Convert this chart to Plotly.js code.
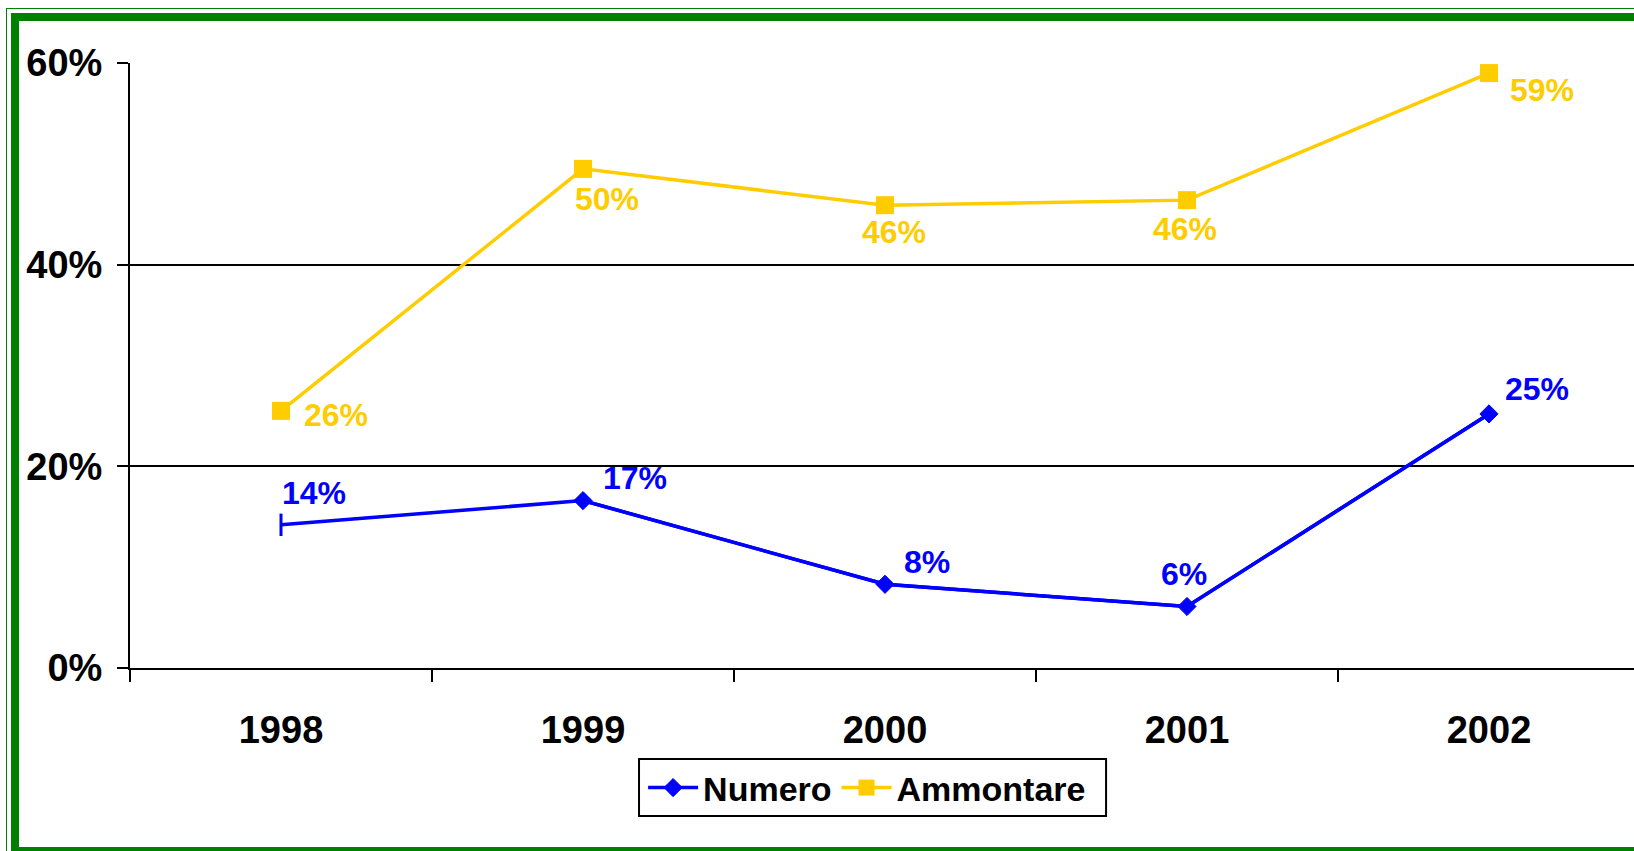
<!DOCTYPE html>
<html>
<head>
<meta charset="utf-8">
<script src="https://cdn.plot.ly/plotly-3.0.1.min.js"></script>
<style>
html,body{margin:0;padding:0;width:1634px;height:851px;overflow:hidden;background:#fff;}
#chart{position:absolute;left:0;top:0;}
.b1{position:absolute;left:6px;top:8px;width:1700px;height:900px;border:1.5px solid #008000;box-sizing:border-box;pointer-events:none;}
.b2{position:absolute;left:11px;top:13px;width:1700px;height:842px;border:8px solid #008000;box-sizing:border-box;pointer-events:none;}
</style>
</head>
<body>
<div id="chart"></div>
<div class="b1"></div>
<div class="b2"></div>
<script>
const years = ['1998', '1999', '2000', '2001', '2002'];
const numero = [0.142, 0.166, 0.083, 0.061, 0.252];
const ammontare = [0.255, 0.495, 0.459, 0.464, 0.590];
const numeroLabels = ['14%', '17%', '8%', '6%', '25%'];
const ammontareLabels = ['26%', '50%', '46%', '46%', '59%'];
const yTicks = [0, 0.2, 0.4, 0.6];
const yTickText = ['0%', '20%', '40%', '60%'];

const BLUE = '#0000FF';
const YELLOW = '#FFCC00';
const FONT = 'Liberation Sans, Arial, sans-serif';

// label offsets (px) relative to each point
const numeroShift = [[33, 32], [52, 23], [42, 22], [-3, 32], [48, 25]];
const ammontareShift = [[55, -4], [24, -30], [9, -27], [-2, -29], [53, -17]];

const traces = [
  { x: years, y: numero, mode: 'lines', line: { color: BLUE, width: 3.5 }, showlegend: false, hoverinfo: 'skip' },
  { x: years.slice(1), y: numero.slice(1), name: 'Numero', mode: 'lines+markers',
    line: { color: BLUE, width: 3.5 },
    marker: { symbol: 'diamond', size: 14, color: BLUE, line: { color: BLUE, width: 1 } } },
  { x: years.slice(0, 1), y: numero.slice(0, 1), mode: 'markers', showlegend: false,
    marker: { symbol: 'line-ns', size: 16, color: BLUE, line: { color: BLUE, width: 3 } } },
  { x: years, y: ammontare, name: 'Ammontare', mode: 'lines+markers',
    line: { color: YELLOW, width: 3.5 },
    marker: { symbol: 'square', size: 18, color: YELLOW } }
];

const annotations = [];
years.forEach((yr, i) => {
  annotations.push({ xref: 'x', yref: 'y', x: i, y: numero[i], text: numeroLabels[i], showarrow: false,
    xanchor: 'center', yanchor: 'middle', xshift: numeroShift[i][0], yshift: numeroShift[i][1],
    font: { family: FONT, size: 32, color: BLUE, weight: 700 } });
  annotations.push({ xref: 'x', yref: 'y', x: i, y: ammontare[i], text: ammontareLabels[i], showarrow: false,
    xanchor: 'center', yanchor: 'middle', xshift: ammontareShift[i][0], yshift: ammontareShift[i][1],
    font: { family: FONT, size: 32, color: YELLOW, weight: 700 } });
});

const layout = {
  width: 1641, height: 851,
  margin: { l: 130, r: 1, t: 63, b: 183 },
  paper_bgcolor: 'rgba(0,0,0,0)', plot_bgcolor: 'rgba(0,0,0,0)',
  font: { family: FONT, color: '#000' },
  showlegend: true,
  xaxis: {
    type: 'category', tickson: 'boundaries', range: [-0.5, 4.5],
    showgrid: false, showline: true, linecolor: '#000', linewidth: 2,
    ticks: 'outside', ticklen: 12, tickwidth: 2, tickcolor: '#000',
    tickfont: { family: FONT, size: 38, weight: 700, color: '#000' },
    ticklabelstandoff: 27, zeroline: false, fixedrange: true
  },
  yaxis: {
    range: [0, 0.6], tickvals: yTicks, ticktext: yTickText,
    showgrid: true, gridcolor: '#000', gridwidth: 2,
    showline: true, linecolor: '#000', linewidth: 2,
    ticks: 'outside', ticklen: 11, tickwidth: 2, tickcolor: '#000',
    tickfont: { family: FONT, size: 38, weight: 700, color: '#000' },
    ticklabelstandoff: 7, zeroline: false, fixedrange: true
  },
  shapes: [{
    type: 'rect', xref: 'paper', yref: 'paper',
    x0: 0.3371, x1: 0.6464, y0: -0.2446, y1: -0.1504,
    line: { color: '#000', width: 2 }, fillcolor: 'rgba(0,0,0,0)', layer: 'above'
  }],
  legend: {
    orientation: 'h', x: 0.3398, xanchor: 'left', y: -0.1504, yanchor: 'top',
    borderwidth: 0, bgcolor: 'rgba(0,0,0,0)',
    font: { family: FONT, size: 34, weight: 700, color: '#000' },
    itemwidth: 50, tracegroupgap: 0
  },
  annotations: annotations
};

Plotly.newPlot('chart', traces, layout, { staticPlot: true, displayModeBar: false });
</script>
</body>
</html>
